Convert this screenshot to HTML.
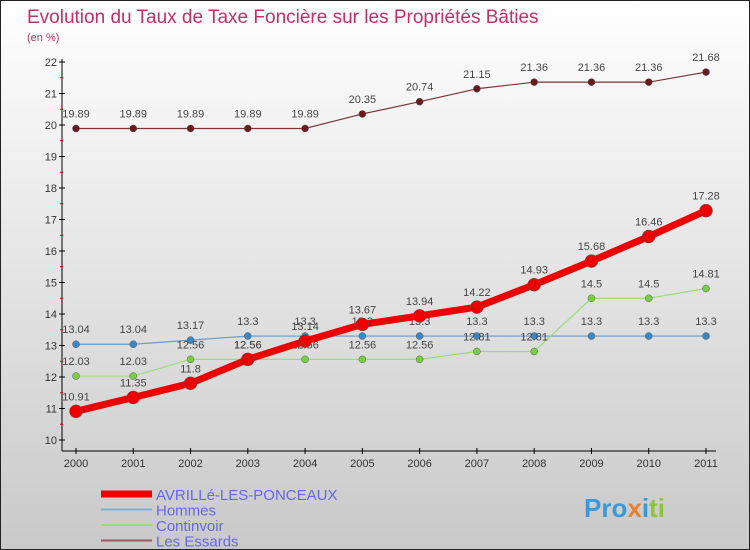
<!DOCTYPE html>
<html><head><meta charset="utf-8"><style>
body{margin:0;}
#c{width:750px;height:550px;position:relative;box-sizing:border-box;border:1px solid #222;background:linear-gradient(#ffffff,#c9c9c9);font-family:"Liberation Sans",sans-serif;overflow:hidden}
svg text{font-family:"Liberation Sans",sans-serif}
</style></head><body>
<div id="c">
<svg id="s" width="750" height="550">
<text x="26" y="22" font-size="19" fill="#c0306a">Evolution du Taux de Taxe Foncière sur les Propriétés Bâties</text>
<text x="26" y="40" font-size="11" fill="#c0306a">(en %)</text>
<g id="axes"></g><g id="series"></g><g id="legend"></g>
<text x="583" y="516" font-size="26" font-weight="bold" fill="#3a9ad9">Pro<tspan fill="#e8812a">x</tspan><tspan fill="#3a9ad9">i</tspan><tspan fill="#8cc43c">ti</tspan></text>
</svg>
</div>
<script>
const years=["2000","2001","2002","2003","2004","2005","2006","2007","2008","2009","2010","2011"];
const yTicks=[10,11,12,13,14,15,16,17,18,19,20,21,22];
const avrille=[10.91,11.35,11.8,12.56,13.14,13.67,13.94,14.22,14.93,15.68,16.46,17.28];
const hommes=[13.04,13.04,13.17,13.3,13.3,13.3,13.3,13.3,13.3,13.3,13.3,13.3];
const continvoir=[12.03,12.03,12.56,12.56,12.56,12.56,12.56,12.81,12.81,14.5,14.5,14.81];
const essards=[19.89,19.89,19.89,19.89,19.89,20.35,20.74,21.15,21.36,21.36,21.36,21.68];
const NS="http://www.w3.org/2000/svg";
const X=i=>75+i*(705-75)/(years.length-1);
const Y=v=>439-(v-10)*(439-61)/12;
function mk(t,a,p){const e=document.createElementNS(NS,t);for(const k in a)e.setAttribute(k,a[k]);p.appendChild(e);return e;}
const ax=document.getElementById('axes');
let l=mk('line',{x1:61,y1:58,x2:61,y2:450,stroke:'#000','stroke-width':1},ax);


l=mk('line',{x1:61,y1:450,x2:715,y2:450,stroke:'#000','stroke-width':1},ax);


yTicks.forEach(v=>{
 mk('line',{x1:58,y1:Y(v),x2:64,y2:Y(v),stroke:'#000'},ax);
 if(v<22) mk('line',{x1:59,y1:Y(v+0.5),x2:62,y2:Y(v+0.5),stroke:'#e00'},ax);
 const t=mk('text',{x:56,y:Y(v)+4,'font-size':11,fill:'#333','text-anchor':'end'},ax);t.textContent=v;
 
 
});
years.forEach((y,i)=>{
 mk('line',{x1:X(i),y1:447,x2:X(i),y2:453,stroke:'#000'},ax);
 const t=mk('text',{x:X(i),y:466,'font-size':11,fill:'#333','text-anchor':'middle'},ax);t.textContent=y;
 
 
});
const sg=document.getElementById('series');
function draw(vals,color,w,r,dot,name){
 const g=mk('g',{},sg);
 
 
 mk('polyline',{points:vals.map((v,i)=>X(i)+','+Y(v)).join(' '),fill:'none',stroke:color,'stroke-width':w,'stroke-linejoin':'round'},g);
 vals.forEach((v,i)=>{
  const c=mk('circle',{cx:X(i),cy:Y(v),r:r,fill:dot,stroke:'#555','stroke-width':0.5},g);
  
  
  const t=mk('text',{x:X(i),y:Y(v)-11,'font-size':11,fill:'#444','text-anchor':'middle'},g);t.textContent=v;
  
  
 });
}
draw(essards,'#7a3434',1.2,3.5,'#6a1a1a','les-essards-line');
draw(hommes,'#6699cc',1.2,3.5,'#3a87c8','hommes-line');
draw(continvoir,'#99dd77',1.2,3.5,'#77d044','continvoir-line');
draw(avrille,'#ee0000',7,6.5,'#ee0000','avrille-line');
const lg=document.getElementById('legend');
const leg=[["AVRILLé-LES-PONCEAUX","#ee0000",7],["Hommes","#7ab0d8",2],["Continvoir","#99dd77",2],["Les Essards","#9a5a5a",2]];
leg.forEach((e,i)=>{
 const y=493+i*15.5;
 const g=mk('g',{},lg);
 
 
 mk('line',{x1:100,y1:y,x2:151,y2:y,stroke:e[1],'stroke-width':e[2]},g);
 const t=mk('text',{x:155,y:y+6,'font-size':15,fill:'#6666ee'},g);t.textContent=e[0];
});
</script>
</body></html>
